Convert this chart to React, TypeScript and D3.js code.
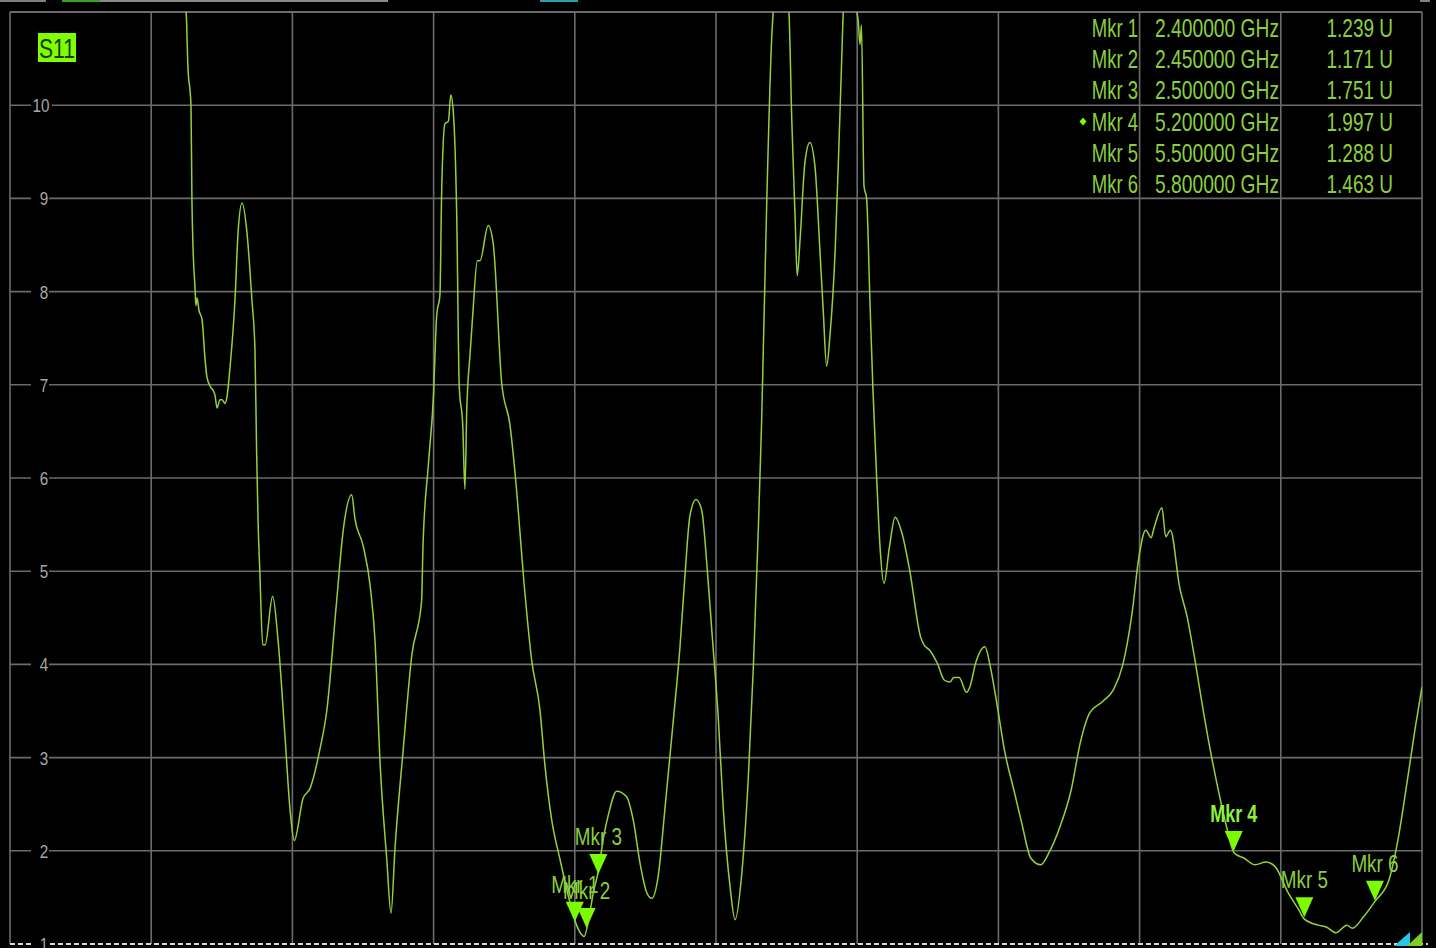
import React from 'react';
import * as d3 from 'd3';

// S11 trace (GHz / VSWR units)
const freqGHz = [
  0, 0.748, 0.756, 0.769, 0.773, 0.778, 0.786, 0.79, 0.795, 0.803, 0.816, 0.829, 0.837, 0.854, 0.863, 0.871,
  0.88, 0.892, 0.901, 0.914, 0.922, 0.935, 0.956, 0.969, 0.986, 1.007, 1.028, 1.041, 1.048, 1.054, 1.062,
  1.074, 1.084, 1.116, 1.139, 1.169, 1.19, 1.208, 1.245, 1.275, 1.317, 1.346, 1.388, 1.416, 1.452, 1.466,
  1.501, 1.53, 1.551, 1.572, 1.601, 1.619, 1.636, 1.671, 1.707, 1.749, 1.755, 1.778, 1.799, 1.813, 1.827,
  1.834, 1.848, 1.863, 1.873, 1.884, 1.898, 1.909, 1.924, 1.933, 1.941, 1.955, 1.966, 1.986, 1.997, 2.032,
  2.054, 2.089, 2.125, 2.153, 2.181, 2.217, 2.252, 2.273, 2.302, 2.337, 2.38, 2.408, 2.429, 2.439, 2.465,
  2.477, 2.499, 2.524, 2.542, 2.578, 2.62, 2.649, 2.677, 2.706, 2.727, 2.755, 2.783, 2.819, 2.847, 2.868,
  2.889, 2.915, 2.939, 2.961, 2.982, 3.01, 3.031, 3.06, 3.081, 3.109, 3.137, 3.159, 3.18, 3.194, 3.216,
  3.237, 3.243, 3.276, 3.31, 3.322, 3.336, 3.345, 3.357, 3.378, 3.399, 3.421, 3.442, 3.456, 3.47, 3.484,
  3.506, 3.52, 3.534, 3.541, 3.57, 3.599, 3.604, 3.612, 3.618, 3.629, 3.64, 3.654, 3.667, 3.683, 3.697,
  3.714, 3.737, 3.761, 3.79, 3.823, 3.87, 3.884, 3.909, 3.939, 3.971, 3.994, 4.01, 4.033, 4.065, 4.079,
  4.104, 4.143, 4.166, 4.198, 4.228, 4.266, 4.299, 4.338, 4.38, 4.415, 4.462, 4.509, 4.548, 4.588, 4.642,
  4.689, 4.728, 4.768, 4.797, 4.826, 4.849, 4.861, 4.895, 4.911, 4.931, 4.97, 5.002, 5.033, 5.072, 5.111,
  5.15, 5.173, 5.201, 5.244, 5.291, 5.337, 5.376, 5.431, 5.478, 5.499, 5.562, 5.595, 5.634, 5.681, 5.704,
  5.751, 5.801, 5.86, 5.898, 5.938, 5.97, 6.0,
];

const vswr = [
  14, 11.0, 10.41, 10.0, 9.0, 8.45, 8.05, 7.85, 7.93, 7.8, 7.7, 7.27, 7.08, 6.97, 6.94, 6.89,
  6.75, 6.84, 6.84, 6.8, 6.87, 7.19, 7.91, 8.63, 8.95, 8.63, 7.91, 7.37, 6.27, 5.55, 4.97,
  4.21, 4.21, 4.73, 4.26, 3.21, 2.44, 2.11, 2.56, 2.67, 3.09, 3.5, 4.68, 5.44, 5.82, 5.56,
  5.27, 4.85, 4.26, 2.97, 1.91, 1.33, 2.03, 3.09, 4.09, 4.68, 5.27, 6.15, 6.86, 7.74, 7.97,
  9.04, 9.8, 9.83, 10.11, 9.92, 8.85, 6.98, 6.56, 5.88, 6.74, 7.33, 7.74, 8.33, 8.33, 8.71,
  8.5, 7.03, 6.56, 5.86, 4.97, 4.04, 3.51, 2.92, 2.33, 1.91, 1.44, 1.2, 1.1, 1.08, 1.35,
  1.53, 1.77, 2.17, 2.38, 2.64, 2.58, 2.32, 1.87, 1.55, 1.49, 1.74, 2.45, 3.41, 4.19, 4.95,
  5.59, 5.77, 5.66, 5.08, 4.37, 3.41, 2.45, 1.61, 1.26, 1.74, 2.77, 3.99, 5.46, 6.62, 9.0,
  10.74, 11.0, 11.8, 11.0, 9.84, 8.81, 8.17, 8.55, 9.39, 9.6, 9.33, 8.42, 7.78, 7.2, 7.52,
  8.42, 9.39, 10.48, 11.0, 11.6, 11.0, 10.91, 10.65, 10.86, 9.13, 9.0, 7.91, 6.94, 5.98, 5.26,
  4.87, 5.26, 5.58, 5.41, 5.01, 4.29, 4.21, 4.15, 4.02, 3.83, 3.81, 3.86, 3.86, 3.7, 3.76,
  4.02, 4.19, 3.97, 3.51, 3.05, 2.65, 2.3, 1.92, 1.85, 1.98, 2.26, 2.65, 3.16, 3.48, 3.6,
  3.73, 3.99, 4.55, 5.15, 5.44, 5.36, 5.46, 5.68, 5.37, 5.44, 4.83, 4.51, 4.08, 3.48, 2.94,
  2.47, 2.22, 1.98, 1.92, 1.85, 1.88, 1.83, 1.55, 1.36, 1.27, 1.2, 1.18, 1.12, 1.2, 1.17,
  1.29, 1.46, 1.69, 2.12, 2.76, 3.3, 3.76,
];

const markerNames = ['Mkr 1', 'Mkr 2', 'Mkr 3', 'Mkr 4', 'Mkr 5', 'Mkr 6'];
const markerFreq = [2.4, 2.45, 2.5, 5.2, 5.5, 5.8];
const markerVal = [1.239, 1.171, 1.751, 1.997, 1.288, 1.463];
const activeMarker = 3;

const yTicks = [1, 2, 3, 4, 5, 6, 7, 8, 9, 10];

const W = 1436;
const H = 948;
const plot = { left: 10, right: 1422, top: 12, bottom: 944 };

const GRID = '#6b6b6b';
const TRACE = '#94d23c';
const TXT = '#8ccf3c';
const MKR = '#7cfc00';
const FONT = '"Liberation Sans", Arial, sans-serif';

const x = d3.scaleLinear().domain([0, 6]).range([plot.left, plot.right]);
const y = d3.scaleLinear().domain([1, 11]).range([plot.bottom, plot.top]);

const points: [number, number][] = freqGHz.map((f, i) => [f, vswr[i]]);
const line = d3.line<[number, number]>()
  .x((d) => x(d[0]))
  .y((d) => y(d[1]))
  .curve(d3.curveMonotoneX);

// condensed text: the analyzer font is narrow, so squeeze a regular sans
const Narrow = ({ x: tx, y: ty, sx, size, anchor, fill, weight, children }: any) => (
  <g transform={`translate(${tx},${ty}) scale(${sx},1)`}>
    <text x={0} y={0} fontSize={size} textAnchor={anchor} fill={fill} fontWeight={weight || 'normal'} fontFamily={FONT}>
      {children}
    </text>
  </g>
);

const App: React.FC = () => {
  const xGrid = d3.range(0, 6.0001, 0.6);
  const yGrid = d3.range(2, 11, 1);
  const fmtF = d3.format('.6f');
  const fmtV = d3.format('.3f');
  const rowY = (i: number) => 37 + i * 31.2;

  return (
    <div style={{ position: 'fixed', left: 0, top: 0, width: W, height: H, background: '#000' }}>
      <svg width={W} height={H} style={{ display: 'block' }}>
        <defs>
          <clipPath id="plotClip">
            <rect x={plot.left} y={plot.top} width={plot.right - plot.left} height={plot.bottom - plot.top} />
          </clipPath>
        </defs>
        <rect x={0} y={0} width={W} height={H} fill="#000" />

        {/* top status strip remnants */}
        <rect x={0} y={0} width={46} height={2} fill="#808080" />
        <rect x={62} y={0} width={38} height={2} fill="#3aa020" />
        <rect x={100} y={0} width={288} height={2} fill="#8a8a8a" />
        <rect x={540} y={0} width={38} height={2} fill="#2aa0a8" />
        <rect x={1420} y={0} width={10} height={2} fill="#808080" />

        {/* grid */}
        {xGrid.map((f) => (
          <line key={'vx' + f} x1={x(f)} x2={x(f)} y1={plot.top} y2={plot.bottom} stroke={GRID} strokeWidth={1.6} />
        ))}
        {yGrid.map((v) => (
          <line key={'hy' + v} x1={plot.left} x2={plot.right} y1={y(v)} y2={y(v)} stroke={GRID} strokeWidth={1.6} />
        ))}
        <line x1={plot.left} x2={plot.right} y1={plot.top} y2={plot.top} stroke={GRID} strokeWidth={2} />
        <line x1={plot.left} x2={plot.right + 6} y1={y(1)} y2={y(1)} stroke="#d8d8d8" strokeWidth={2} strokeDasharray="5 3" />

        {/* y labels */}
        {yTicks.map((v) => (
          <g key={'yl' + v}>
            <rect x={31} y={y(v) - 10} width={v === 10 ? 21 : 18} height={20} fill="#000" />
            <Narrow x={v === 10 ? 41 : 44} y={y(v) + 7} sx={0.8} size={19} anchor="middle" fill="#a8a8a8">
              {v}
            </Narrow>
          </g>
        ))}

        {/* trace */}
        <path d={line(points) || ''} fill="none" stroke={TRACE} strokeWidth={1.5} clipPath="url(#plotClip)" />

        {/* trace label */}
        <rect x={38} y={33} width={38} height={29} fill="#80ff00" />
        <Narrow x={57} y={58} sx={0.78} size={27} anchor="middle" fill="#1b3a00">S11</Narrow>

        {/* marker table */}
        {markerNames.map((name, i) => (
          <g key={'row' + i}>
            <Narrow x={1138} y={rowY(i)} sx={0.74} size={25} anchor="end" fill={TXT}>{name}</Narrow>
            <Narrow x={1155} y={rowY(i)} sx={0.77} size={25} anchor="start" fill={TXT}>
              {fmtF(markerFreq[i]) + ' GHz'}
            </Narrow>
            <Narrow x={1393} y={rowY(i)} sx={0.76} size={25} anchor="end" fill={TXT}>
              {fmtV(markerVal[i]) + ' U'}
            </Narrow>
          </g>
        ))}
        <path
          d={`M${1083},${rowY(activeMarker) - 13}l3.5,4l-3.5,4l-3.5,-4z`}
          fill={MKR}
        />

        {/* markers on trace */}
        {markerNames.map((name, i) => {
          const mx = x(markerFreq[i]);
          const my = y(markerVal[i]);
          const active = i === activeMarker;
          return (
            <g key={'mk' + i}>
              <path d={`M${mx},${my}L${mx - 9},${my - 20}L${mx + 9},${my - 20}Z`} fill={MKR} />
              <Narrow
                x={mx}
                y={my - 29}
                sx={active ? 0.78 : 0.82}
                size={23}
                anchor="middle"
                fill={active ? '#8ef03a' : TXT}
                weight={active ? 'bold' : 'normal'}
              >
                {name}
              </Narrow>
            </g>
          );
        })}

        {/* off-screen indicators, bottom right */}
        <path d="M1394,946L1410,932L1410,946Z" fill="#22c8e8" />
        <path d="M1407,946L1422,932L1422,946Z" fill="#7cd020" />
      </svg>
    </div>
  );
};

export default App;
